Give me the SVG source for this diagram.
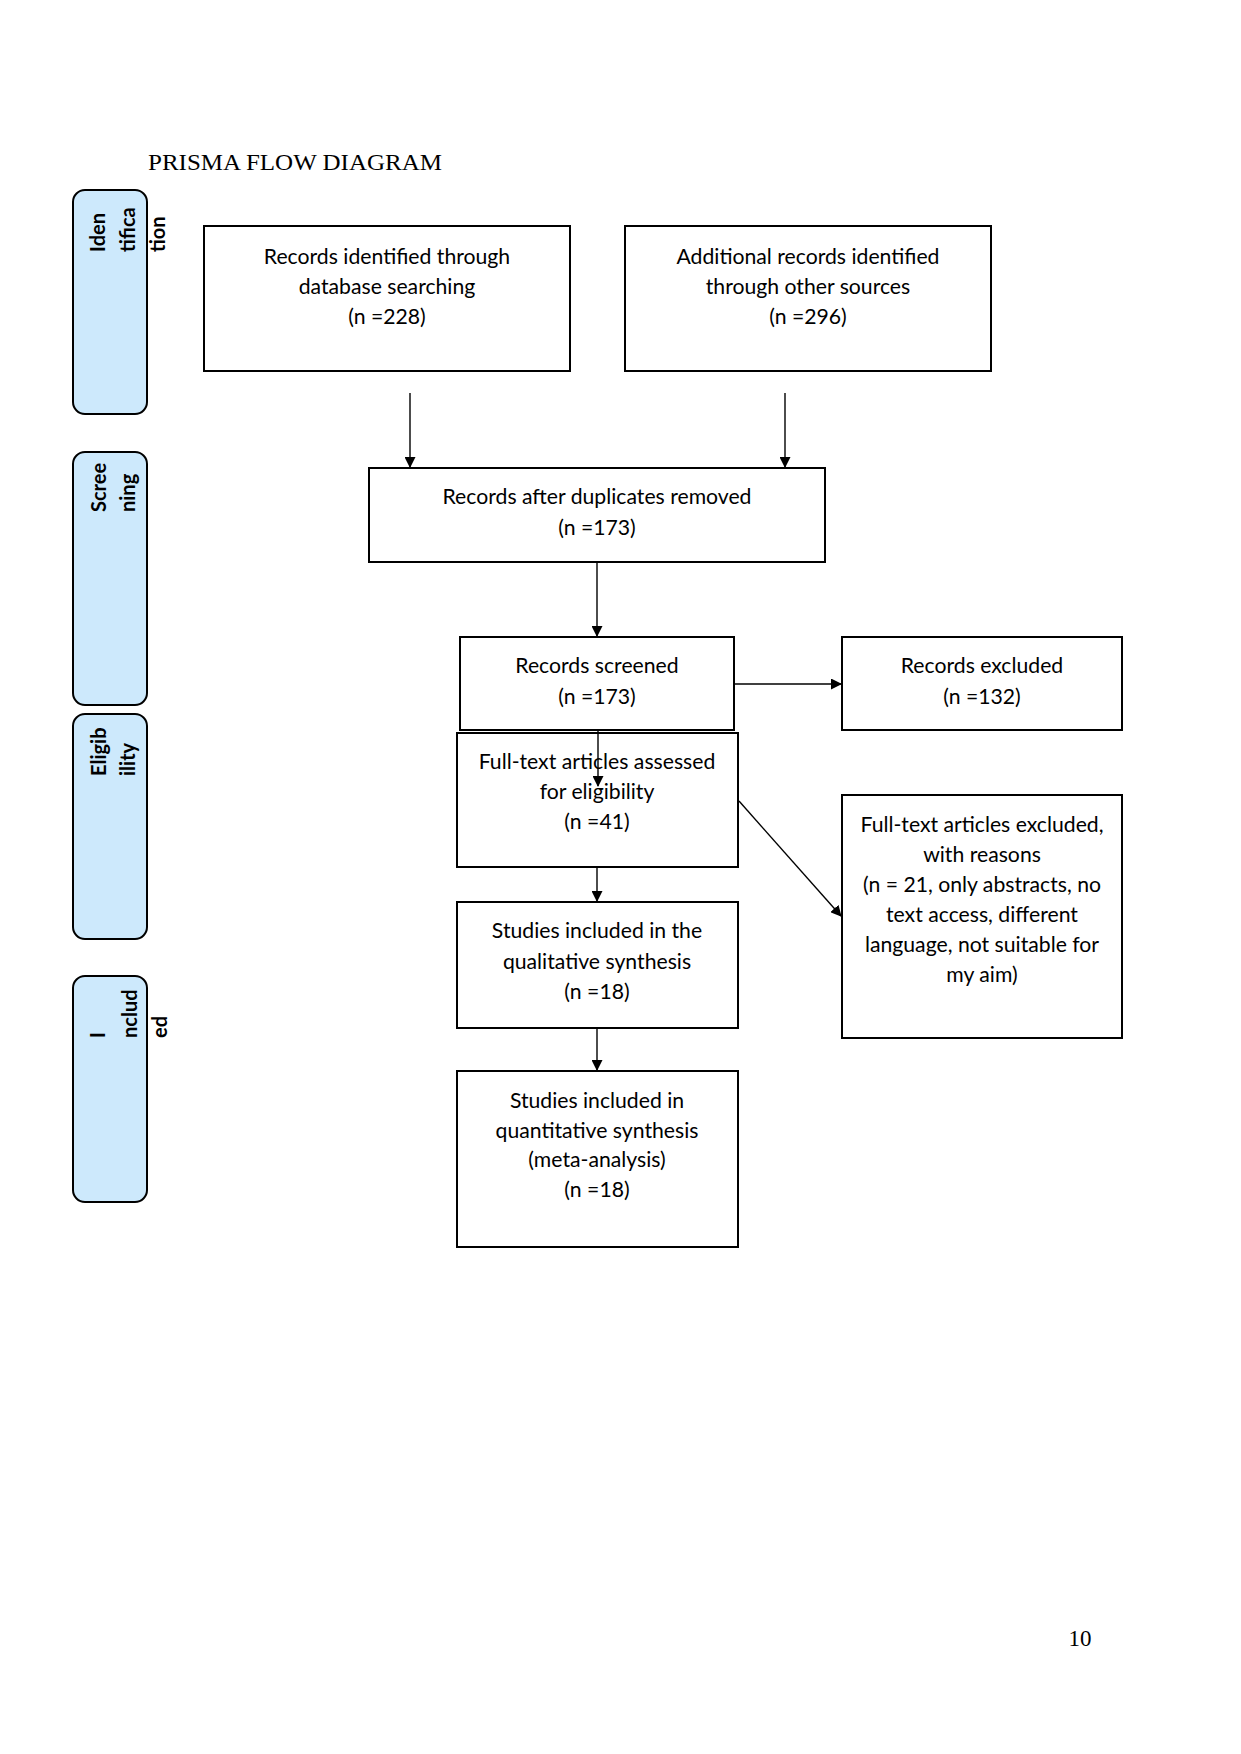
<svg xmlns="http://www.w3.org/2000/svg" width="1241" height="1754" viewBox="0 0 1241 1754">
<style>
.bg{fill:#ffffff}
.box{fill:#ffffff;stroke:#000000;stroke-width:2}
.side{fill:#cde9fc;stroke:#000000;stroke-width:2}
.t{font-family:Lato,"Liberation Sans",sans-serif;font-size:21.2px;fill:#000000;text-anchor:middle}
.s{font-family:Lato,"Liberation Sans",sans-serif;font-size:20px;font-weight:bold;fill:#000000}
.serif{font-family:"Liberation Serif",serif;font-size:23px;fill:#000000}
.c{stroke:#000000;stroke-width:1.4;fill:none;marker-end:url(#ah)}
</style>
<defs>
<marker id="ah" markerWidth="11" markerHeight="11" refX="10" refY="5.5" orient="auto" markerUnits="userSpaceOnUse">
<path d="M0,0 L11,5.5 L0,11 Z" fill="#000000"/>
</marker>
</defs>
<rect class="bg" x="0" y="0" width="1241" height="1754"/>
<text class="serif" x="148" y="170" textLength="294" lengthAdjust="spacingAndGlyphs">PRISMA FLOW DIAGRAM</text>
<text class="serif" x="1080" y="1646" text-anchor="middle">10</text>

<g id="stage-identification">
<rect class="side" x="73" y="190" width="74" height="224" rx="12"/>
<g transform="translate(0,252) rotate(-90)">
<text class="s" x="0" y="105">Iden</text>
<text class="s" x="0" y="135">tifica</text>
<text class="s" x="0" y="165">tion</text>
</g>
</g>
<g id="stage-screening">
<rect class="side" x="73" y="452" width="74" height="253" rx="12"/>
<g transform="translate(0,512) rotate(-90)">
<text class="s" x="0" y="106">Scree</text>
<text class="s" x="0" y="135">ning</text>
</g>
</g>
<g id="stage-eligibility">
<rect class="side" x="73" y="714" width="74" height="225" rx="12"/>
<g transform="translate(0,776) rotate(-90)">
<text class="s" x="0" y="106">Eligib</text>
<text class="s" x="0" y="135">ility</text>
</g>
</g>
<g id="stage-included">
<rect class="side" x="73" y="976" width="74" height="226" rx="12"/>
<g transform="translate(0,1038) rotate(-90)">
<text class="s" x="0" y="105">I</text>
<text class="s" x="0" y="137">nclud</text>
<text class="s" x="0" y="167">ed</text>
</g>
</g>

<g id="n-database">
<rect class="box" x="204" y="226" width="366" height="145"/>
<text class="t" x="387" y="264">Records identified through</text>
<text class="t" x="387" y="294">database searching</text>
<text class="t" x="387" y="324">(n =228)</text>
</g>
<g id="n-other">
<rect class="box" x="625" y="226" width="366" height="145"/>
<text class="t" x="808" y="264">Additional records identified</text>
<text class="t" x="808" y="294">through other sources</text>
<text class="t" x="808" y="324">(n =296)</text>
</g>
<g id="n-dedup">
<rect class="box" x="369" y="468" width="456" height="94"/>
<text class="t" x="597" y="504">Records after duplicates removed</text>
<text class="t" x="597" y="535">(n =173)</text>
</g>
<g id="n-screened">
<rect class="box" x="460" y="637" width="274" height="93"/>
<text class="t" x="597" y="673">Records screened</text>
<text class="t" x="597" y="704">(n =173)</text>
</g>
<g id="n-excluded">
<rect class="box" x="842" y="637" width="280" height="93"/>
<text class="t" x="982" y="673">Records excluded</text>
<text class="t" x="982" y="704">(n =132)</text>
</g>
<g id="n-fulltext">
<rect class="box" x="457" y="733" width="281" height="134"/>
<text class="t" x="597" y="769">Full-text articles assessed</text>
<text class="t" x="597" y="799">for eligibility</text>
<text class="t" x="597" y="829">(n =41)</text>
</g>
<g id="n-ft-excluded">
<rect class="box" x="842" y="795" width="280" height="243"/>
<text class="t" x="982" y="832">Full-text articles excluded,</text>
<text class="t" x="982" y="862">with reasons</text>
<text class="t" x="982" y="892">(n = 21, only abstracts, no</text>
<text class="t" x="982" y="922">text access, different</text>
<text class="t" x="982" y="952">language, not suitable for</text>
<text class="t" x="982" y="982">my aim)</text>
</g>
<g id="n-qualitative">
<rect class="box" x="457" y="902" width="281" height="126"/>
<text class="t" x="597" y="938">Studies included in the</text>
<text class="t" x="597" y="969">qualitative synthesis</text>
<text class="t" x="597" y="999">(n =18)</text>
</g>
<g id="n-quantitative">
<rect class="box" x="457" y="1071" width="281" height="176"/>
<text class="t" x="597" y="1108">Studies included in</text>
<text class="t" x="597" y="1138">quantitative synthesis</text>
<text class="t" x="597" y="1167">(meta-analysis)</text>
<text class="t" x="597" y="1197">(n =18)</text>
</g>

<g id="connectors">
<line class="c" x1="410" y1="393" x2="410" y2="467"/>
<line class="c" x1="785" y1="393" x2="785" y2="467"/>
<line class="c" x1="597" y1="563" x2="597" y2="636"/>
<line class="c" x1="735" y1="684" x2="841" y2="684"/>
<line class="c" x1="598" y1="731" x2="598" y2="786"/>
<line class="c" x1="739" y1="801" x2="841" y2="916"/>
<line class="c" x1="597" y1="868" x2="597" y2="901"/>
<line class="c" x1="597" y1="1029" x2="597" y2="1070"/>
</g>
</svg>
